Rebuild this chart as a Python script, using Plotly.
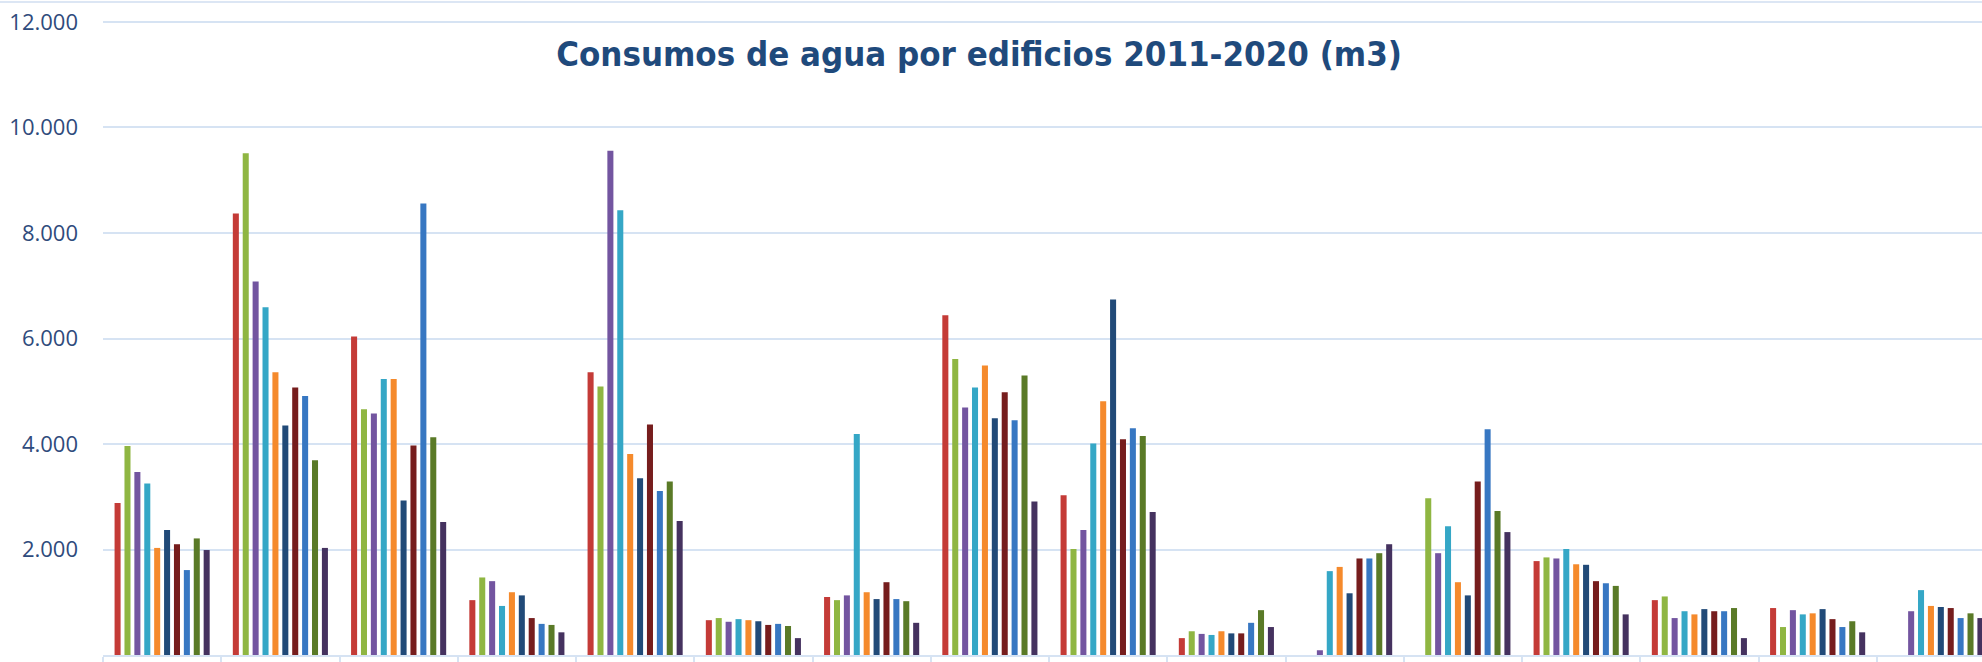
import plotly.graph_objects as go

CATEGORIES = ["Edificio 1", "Edificio 2", "Edificio 3", "Edificio 4", "Edificio 5",
              "Edificio 6", "Edificio 7", "Edificio 8", "Edificio 9", "Edificio 10",
              "Edificio 11", "Edificio 12", "Edificio 13", "Edificio 14", "Edificio 15",
              "Edificio 16"]

YEARS = ["2011", "2012", "2013", "2014", "2015", "2016", "2017", "2018", "2019", "2020"]

v2011 = [2880, 8370, 6040, 1040, 5360, 660, 1100, 6440, 3030, 320, 0, 0, 1780, 1040, 890, 0]
v2012 = [3960, 9510, 4660, 1470, 5090, 700, 1040, 5610, 2010, 450, 0, 2970, 1850, 1110, 530, 0]
v2013 = [3470, 7080, 4580, 1400, 9560, 630, 1130, 4690, 2370, 400, 90, 1930, 1830, 700, 850, 830]
v2014 = [3250, 6590, 5230, 930, 8430, 680, 4190, 5070, 4010, 380, 1590, 2440, 2010, 830, 770, 1230]
v2015 = [2030, 5360, 5230, 1190, 3810, 660, 1190, 5490, 4810, 450, 1670, 1380, 1720, 770, 790, 930]
v2016 = [2370, 4350, 2930, 1130, 3350, 640, 1060, 4490, 6740, 410, 1170, 1130, 1710, 870, 870, 910]
v2017 = [2100, 5070, 3970, 700, 4370, 570, 1380, 4980, 4090, 410, 1830, 3290, 1400, 830, 680, 890]
v2018 = [1610, 4910, 8560, 590, 3110, 590, 1060, 4450, 4300, 610, 1830, 4280, 1360, 830, 530, 700]
v2019 = [2210, 3690, 4130, 570, 3290, 550, 1020, 5300, 4150, 850, 1930, 2730, 1310, 890, 640, 790]
v2020 = [1990, 2030, 2520, 430, 2540, 320, 610, 2910, 2710, 530, 2100, 2330, 770, 320, 430, 700]

SERIES = [v2011, v2012, v2013, v2014, v2015, v2016, v2017, v2018, v2019, v2020]
COLORS = ["#C43B37", "#8FB642", "#7355A0", "#35A7C6", "#F58A2C",
          "#214A78", "#761D1D", "#3777C2", "#5A7A27", "#45325F"]

Y_TICKS = [0, 2000, 4000, 6000, 8000, 10000, 12000]
Y_TICK_LABELS = ["0", "2.000", "4.000", "6.000", "8.000", "10.000", "12.000"]

TITLE = "Consumos de agua por edificios 2011-2020 (m3)"

GRID = "#D6E3F3"

fig = go.Figure()
for year, vals, col in zip(YEARS, SERIES, COLORS):
    fig.add_trace(go.Bar(name=year, x=CATEGORIES, y=vals,
                         marker=dict(color=col, line=dict(width=0))))

fig.update_layout(
    width=1982, height=662,
    margin=dict(l=103, r=0, t=2, b=7, autoexpand=False),
    paper_bgcolor="white", plot_bgcolor="white",
    barmode="group", bargap=0.163, bargroupgap=0.39,
    showlegend=False,
    title=dict(text="<b>" + TITLE + "</b>", x=0.494, xanchor="center",
               y=1 - 54 / 662, yanchor="middle",
               font=dict(family="Liberation Sans Narrow, DejaVu Sans Condensed, Open Sans",
                         size=34.5, color="#1F4A7C")),
)
fig.update_xaxes(
    automargin=False,
    range=[-0.5, 15.39], showticklabels=False,
    showgrid=False, zeroline=False,
    showline=True, linecolor=GRID, linewidth=2,
    ticks="outside", tickson="boundaries", ticklen=7, tickwidth=2, tickcolor=GRID,
)
fig.update_yaxes(
    automargin=False,
    range=[0, 12379], tickvals=Y_TICKS, ticktext=Y_TICK_LABELS,
    showgrid=True, gridcolor=GRID, gridwidth=2,
    zeroline=False, showline=False, ticks="",
    ticklabelstandoff=24,
    tickfont=dict(family="Open Sans", size=22, color="#2F4B7C"),
)
fig.add_shape(type="line", xref="paper", yref="paper", x0=-0.06, x1=1, y0=1, y1=1,
              line=dict(color="#DCE6F4", width=2))

fig.write_html("out.html", config={"displayModeBar": False},
               post_script="document.body.style.margin='0';document.body.style.overflow='hidden';")
